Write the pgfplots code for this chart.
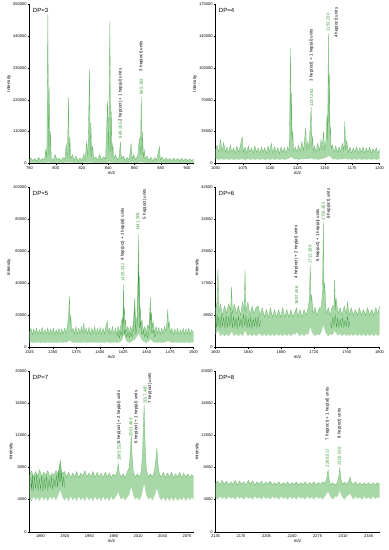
\documentclass[border=0pt]{standalone}
\usepackage{pgfplots}
\pgfplotsset{compat=1.18}
\usepackage{pgfplotstable}
\usepgfplotslibrary{fillbetween}
\usepackage{fontspec}
\setmainfont{Liberation Sans}
\definecolor{fillg}{RGB}{168,216,168}
\definecolor{lineg}{RGB}{105,182,105}
\definecolor{darkg}{RGB}{55,150,55}
\definecolor{numg}{RGB}{60,160,60}
\newcommand\af{\fontsize{4.4}{5}\selectfont}
\pgfplotsset{spec/.style={
 scale only axis, width=164bp,
 anchor=south west,
 axis lines=left, axis line style={-,line width=0.4pt},
 tick align=outside, major tick length=1.8bp, minor tick length=1bp,
 every tick/.style={black,line width=0.3pt},
 ticklabel style={font=\fontsize{4}{4.5}\selectfont, inner sep=1bp},
 /pgf/number format/fixed,
 /pgf/number format/precision=0,
 /pgf/number format/assume math mode=true,
 /pgf/number format/1000 sep={},
 scaled ticks=false,
 minor x tick num=1,
 xlabel={\textit{m/z}}, ylabel={Intensity},
 label style={font=\fontsize{4.5}{5}\selectfont},
 xlabel style={inner sep=1bp},
 ylabel style={inner sep=1bp},
 clip=true,
}}
\newcommand\spectrum[1]{%
 \addplot[name path=U, draw=none] table[x=x,y=u]{#1};
 \addplot[name path=L, draw=none] table[x=x,y=l]{#1};
 \addplot[fill=fillg, draw=none] fill between[of=U and L];
 \addplot[draw=lineg, line width=0.3pt] table[x=x,y=u]{#1};
}
\newcommand\dptitle[1]{\node[anchor=north west, font=\fontsize{6}{7}\selectfont, inner sep=0] at (rel axis cs:0.02,0.975) {#1};}
\newcommand\gnum[3]{\node[rotate=90, anchor=west, inner sep=0, font=\af, text=numg] at (axis cs:#1,#2) {#3};}
\newcommand\btxt[3]{\node[rotate=90, anchor=west, inner sep=0, font=\af] at (axis cs:#1,#2) {#3};}

\pgfplotstableread{
x u l
780 12000 2000
781 18000 1500
782.5 9000 2500
784 16000 1000
785.5 8000 2000
787 20000 1500
788.5 10000 2500
790 17000 1500
791.5 12000 2000
792.4 46000 2000
793.2 14000 2500
794 515000 3000
794.5 30000 3000
795 265000 3000
795.5 25000 2500
796 110000 2500
796.6 18000 2000
798 9000 1500
799.5 30000 1500
801 12000 2000
802.5 18000 1500
804 9000 2500
805.5 20000 1500
807 14000 2000
808 67000 2500
808.8 15000 2500
809.8 226000 3000
810.3 20000 3000
810.8 90000 3000
811.4 15000 2500
812.8 30000 2000
814 10000 1500
815.5 25000 2000
817 9000 1500
818.5 18000 2000
820 10000 1500
821.5 32000 2000
822.5 12000 2000
823.5 75000 2500
824.5 20000 2500
825.8 324000 3000
826.3 25000 3000
826.8 140000 3000
827.3 20000 2500
828 60000 2500
829 14000 2000
830.5 22000 1500
832 10000 2000
833.5 30000 1500
835 12000 2000
836.5 22000 1500
838 15000 2000
839.5 214000 2500
840.2 30000 3000
841.3 492000 3000
841.8 40000 3000
842.3 180000 3000
842.9 20000 2500
843.5 70000 2500
844.2 15000 2000
845.5 30000 2000
847 12000 1500
848.3 20000 2000
849.3 75000 2500
850 15000 2000
851.5 25000 1500
853 10000 2000
854.5 20000 1500
856 12000 2000
857.5 69000 2500
858.3 15000 2000
859.5 30000 2000
861 12000 1500
862.5 28000 2000
863.8 87000 2500
864.5 30000 3000
865.2 231000 3000
865.7 30000 3000
866.2 110000 3000
866.8 20000 2500
867.5 45000 2500
868.2 14000 2000
869.5 25000 1500
871 10000 2000
872.5 20000 1500
874 9000 2000
875.5 20000 1500
877 12000 2000
879 58000 2000
879.7 12000 2000
881 22000 1500
882.5 9000 2000
884 18000 1500
885.5 10000 2000
887 17000 1500
888.5 9000 2000
890 18000 1500
891.5 10000 2000
893 16000 1500
894.5 9000 2000
896 17000 1500
897.5 9000 2000
899 16000 1500
900.5 9000 2000
902 15000 1500
903.5 9000 2000
905 14000 1500
}\dpthree

\pgfplotstableread{
x u l
1050 14000 4200
1051.5 20000 4800
1053 12000 3800
1054.5 26000 4500
1056 13000 4800
1057.5 23000 3800
1059 12000 4300
1060.5 18000 4800
1062 11000 3800
1063.5 20000 4200
1065 12000 4800
1066.5 17000 3800
1068 11000 4300
1069.5 19000 4800
1071 12000 3800
1072.5 18000 4300
1074.4 29000 4800
1075.5 12000 4000
1077 18000 3800
1078.5 11000 4300
1080 19000 4800
1081.5 12000 3800
1083 17000 4300
1084.5 11000 4800
1086 19000 3800
1087.5 12000 4300
1089 17000 4800
1090.5 11000 3800
1092 18000 4300
1093.5 12000 4800
1095 17000 3800
1096.5 11000 4300
1098 19000 4800
1099.5 12000 3800
1101 22000 4300
1102.5 11000 4800
1104 18000 3800
1105.5 12000 4300
1107 17000 4800
1108.5 11000 3800
1110 18000 4300
1111.5 12000 4800
1113 17000 3800
1114.5 11000 4300
1116 18000 4800
1117.5 14000 5500
1118.6 126700 6500
1119.1 30000 6500
1119.6 77000 6500
1120.1 25000 6000
1120.6 35000 6000
1121.5 13000 5000
1123 18000 4300
1124.5 12000 4800
1126 20000 3800
1127.5 13000 4300
1129 24000 4800
1130.5 14000 4500
1132.5 38600 5000
1133.3 15000 5000
1134.5 24000 4800
1135.5 15000 4800
1137.5 62400 5500
1138.1 18000 5500
1138.7 30000 5000
1139.4 13000 4500
1140.5 19000 4300
1142 12000 4800
1143.5 22000 3800
1145 13000 4300
1146.5 26000 4800
1147.5 14000 5000
1148.8 35000 5500
1149.8 15000 5500
1151 24000 6000
1152 53000 7000
1152.6 25000 7500
1153.2 143000 8000
1153.7 45000 8000
1154.2 99000 8000
1154.7 30000 7500
1155.2 40000 7000
1155.8 16000 6000
1157 20000 4800
1158.5 12000 4300
1160 19000 4800
1161.5 12000 3800
1163 18000 4300
1164.5 13000 4800
1166 22000 4300
1167.3 14000 4800
1168.3 46000 5500
1169 15000 5000
1170 25000 4800
1171.5 12000 4300
1173 18000 4800
1174.5 11000 3800
1176 17000 4300
1177.5 12000 4800
1179 18000 3800
1180.5 11000 4300
1182 17000 4800
1183.5 12000 3800
1185 18000 4300
1186.5 11000 4800
1188 17000 3800
1189.5 12000 4300
1191 18000 4800
1192.5 11000 3800
1194 16000 4300
1195.5 12000 4800
1197 17000 3800
1198.5 11000 4300
1200 15000 4500
}\dpfour

\pgfplotstableread{
x u l
1325 9000 3000
1326.5 12000 3500
1328 8000 2800
1329.5 11500 3300
1331 8500 2700
1332.5 12000 3400
1334 8000 2900
1335.5 11000 3300
1337 8500 2700
1338.5 12500 3400
1340 8000 2900
1341.5 11000 3300
1343 8500 2800
1344.5 12000 3400
1346 8000 2900
1347.5 11500 3300
1349 8500 2700
1350.5 12000 3400
1352 8000 2900
1353.5 11000 3300
1355 8500 2800
1356.5 12000 3400
1358 8000 2900
1359.5 11500 3300
1361 8500 2800
1362.5 12000 3400
1364 8500 3000
1365.5 14000 3500
1366.7 20000 4000
1367.7 32000 4500
1368.3 14000 4000
1369 20000 4000
1370 10000 3300
1371.5 12000 2900
1373 8500 3300
1374.5 13000 2800
1376 8000 3400
1377.5 12000 2900
1379 8500 3300
1380.5 13000 2800
1382 9000 3400
1383 15500 3400
1384 9000 2900
1385.5 12000 3300
1387 8500 2800
1388.5 12500 3400
1390 8000 2900
1391.5 12000 3300
1393 8500 2800
1394.5 13000 3400
1396 8000 2900
1397.5 12000 3300
1399 8500 2800
1400.5 12500 3400
1402 8000 2900
1403.5 12000 3300
1405 8500 2800
1406.5 13000 3400
1408 16600 3500
1409 9000 3000
1410.5 12000 3300
1412 8500 2800
1413.5 13000 3400
1415 8000 2900
1416.5 12000 3300
1418 8500 2800
1419.5 13000 3400
1421 9000 3300
1422.5 14000 3800
1423.8 18000 4500
1424.6 15000 6000
1425.3 39400 8000
1425.8 20000 8000
1426.3 25000 7500
1426.9 14000 6500
1427.5 17000 5000
1428.5 10000 3800
1430 13000 3300
1431.5 9000 2900
1433 13000 3400
1434.5 9500 3800
1436 17000 4500
1437.4 31000 5000
1438 12000 5500
1439.3 18000 6500
1440.3 20000 7500
1441.3 70500 8500
1441.8 25000 8500
1442.3 45000 8000
1442.8 18000 7500
1443.3 25000 6500
1444 14000 5500
1445 17000 4500
1446.5 10000 3800
1448 13000 3300
1449.5 9000 2900
1451 14000 3400
1452.5 12000 4000
1454 31000 5000
1454.6 14000 5000
1455.2 22000 4500
1456 12000 4000
1457 16000 3500
1458.5 9000 2900
1460 13000 3300
1461.5 8500 2800
1463 12500 3400
1464.5 8000 2900
1466 12000 3300
1467.5 8500 2800
1469 13000 3400
1470.5 10000 3300
1471.8 16000 3800
1472.6 24000 4200
1473.3 12000 4000
1474 16000 3600
1475.5 9000 3000
1477 12000 3300
1478.5 8000 2800
1480 11500 3400
1481.5 8500 2900
1483 12000 3300
1484.5 8000 2800
1486 11000 3400
1487.5 8500 2900
1489 12000 3300
1490.5 8000 2800
1492 11500 3400
1493.5 8500 2900
1495 12000 3300
1496.5 8000 2800
1498 11000 3400
1500 9000 3000
}\dpfive

\pgfplotstableread{
x u l
1600 10000 3500
1601.8 12000 4000
1603 20900 4500
1604 9500 4000
1606 11500 3000
1608.5 8500 3600
1611 11000 3000
1613.5 9000 3600
1616 11500 3000
1618.5 10000 3800
1619.6 16100 4200
1620.6 9000 3800
1623 11500 3000
1625.5 9000 3600
1628 11000 3000
1630.5 8500 3600
1633 12000 3000
1635 10000 3800
1636 20700 4500
1637 9500 4000
1639.5 12000 3000
1642 8500 3600
1644.5 11000 3000
1647 9000 3600
1649.5 10500 3000
1652 11000 3500
1654.5 8500 3600
1657 10500 3000
1659.5 8000 3600
1662 10000 3000
1664.5 8000 3600
1667 10500 3000
1669.5 8000 3600
1672 10000 3000
1674.5 8000 3600
1677 10000 3000
1679.5 8000 3600
1682 10500 3000
1684.5 8000 3600
1687 10000 3000
1689.5 8000 3600
1692 10000 3000
1694.5 8000 3600
1697 9500 3400
1699 10500 4000
1700.5 8000 3600
1703 10000 3000
1705.5 8000 3600
1708 10000 3000
1710.5 8500 3600
1713 10500 3400
1714.5 13000 4500
1715.5 21800 5500
1716.4 12000 5000
1717.2 14000 4200
1719 9000 3600
1721.5 10500 3000
1724 8500 3600
1726.5 10500 3200
1729 10500 4000
1730.5 15000 5000
1731.5 33100 6000
1732.3 14000 5500
1733.1 17000 4500
1735 9000 3600
1737.5 10500 3000
1740 8500 3600
1742.5 11000 3200
1744.5 11000 4000
1745.3 17900 4500
1746.2 10000 4000
1747 13000 3800
1749.5 9000 3200
1752 10500 3600
1754.5 8500 3000
1757 11000 3600
1759.5 9000 3000
1761 12000 3600
1763 8500 3000
1765.5 10500 3600
1768 8500 3000
1770.5 10000 3600
1773 8500 3000
1775.5 10500 3600
1778 8500 3000
1780.5 10000 3600
1783 8500 3000
1785.5 10500 3600
1788 8500 3000
1790.5 10000 3600
1793 8500 3000
1795.5 10500 3600
1798 9000 3000
1800 11000 3500
}\dpsix

\pgfplotstableread{
x u l
1876.5 7000 4200
1879 7600 3800
1881.5 6800 4400
1884 7500 3900
1886.5 6900 4300
1889 7700 3800
1891.5 6800 4400
1894 7400 3900
1896.5 7000 4300
1899 7600 3800
1901.5 6800 4400
1904 7300 4000
1906.5 7000 4400
1909 7600 3900
1911.5 7200 4500
1913 8000 4800
1914.4 8900 5200
1915.5 7800 4800
1917 7200 4300
1919.5 7500 3900
1922 6800 4300
1924.5 7400 3800
1927 6700 4400
1929.5 7300 3900
1932 6800 4300
1934.5 7500 3800
1937 6700 4400
1939.5 7300 3900
1942 6900 4300
1944.5 7600 3800
1947 6800 4400
1949.5 7300 3900
1952 6800 4300
1954.5 7500 3800
1957 6700 4400
1959.5 7400 3900
1962 6800 4300
1964.5 7300 3800
1967 6700 4400
1969.5 7400 3900
1972 6800 4300
1974.5 7300 3800
1977 6700 4400
1979.5 7200 3900
1982 6900 4300
1984.3 7600 4600
1985.5 8500 5000
1986.8 7300 4500
1989 6800 4000
1991.5 7200 4300
1994 6700 3900
1996.5 7400 4300
1999 8000 4600
2000.5 10000 5200
2001.5 12000 5600
2002.5 9500 5200
2004 7500 4500
2006.5 6800 4000
2009 7200 4300
2011.5 6800 3900
2014 7500 4400
2015.5 10000 5200
2016.5 13500 5600
2017.4 15800 6000
2018.5 11000 5400
2020 7800 4600
2022.5 6800 4000
2025 7200 4300
2027.5 6800 3900
2030 7600 4400
2031.8 9000 5000
2033 10400 5400
2034.2 8500 5000
2036 7200 4300
2038.5 6800 3900
2041 7400 4300
2043.5 6700 3800
2046 7300 4300
2048.5 6800 3800
2051 7400 4300
2053.5 6700 3800
2056 7200 4300
2058.5 6800 3800
2061 7400 4200
2063.5 6700 3900
2066 7300 4300
2068.5 6800 3800
2071 7200 4300
2073.5 6700 3900
2076 7100 4300
2078 6800 4000
}\dpseven

\pgfplotstableread{
x u l
2135 6000 4300
2138 6300 4000
2141 5800 4400
2144 6400 4100
2147 5900 4300
2150 6300 4000
2153 5800 4400
2156 6200 4100
2159 5900 4300
2162 6400 4000
2165 5800 4400
2168 6300 4100
2171 5900 4300
2174 6200 4000
2177 5800 4400
2180 6400 4100
2183 5900 4300
2186 6300 4000
2189 5800 4400
2192 6200 4100
2195 5900 4300
2198 6300 4000
2201 5800 4400
2204 6200 4100
2207 5900 4300
2210 6300 4000
2213 5800 4400
2216 6100 4100
2219 5900 4300
2222 6200 4000
2225 5800 4400
2228 6100 4100
2231 5900 4300
2234 6200 4000
2237 5800 4400
2240 6100 4100
2243 5900 4300
2246 6200 4000
2249 5800 4400
2252 6100 4100
2255 5900 4300
2258 6200 4000
2261 5800 4400
2264 6100 4100
2267 5900 4300
2270 6200 4000
2273 5800 4400
2276 6100 4100
2279 5900 4300
2282 6200 4000
2285 6000 4400
2287.5 6600 4700
2289.5 7700 5000
2291 6500 4700
2293 5800 4300
2296 6100 4000
2299 5800 4400
2302 6100 4300
2304 6800 4800
2305.5 7900 5100
2307 6600 4700
2309 5900 4300
2312 6200 4000
2315 5900 4400
2318 6300 4600
2319.5 6800 4800
2321 6200 4500
2324 5900 4000
2327 6200 4400
2330 5800 4100
2333 6100 4300
2336 5800 4000
2339 6100 4400
2342 5800 4100
2345 6100 4300
2348 5800 4000
2351 6100 4400
2354 5800 4100
2357 6100 4300
2360 5900 4200
}\dpeight

\begin{document}
\begin{tikzpicture}
% DP=3
\begin{axis}[spec, at={(29.5bp,386.7bp)}, height=159bp,
 xmin=780, xmax=905, ymin=0, ymax=550000,
 xtick={780,800,...,900}, ytick={0,110000,...,550000}]
\spectrum{\dpthree}
\dptitle{DP=3}
\gnum{849.3}{86800}{849.265}
\btxt{849.3}{144700}{2 hep(oct) + 1 hep(al) units}
\gnum{865.2}{237400}{865.183}
\btxt{865.2}{318400}{3 hep(oct) units}
\end{axis}
% DP=4
\begin{axis}[spec, at={(215.5bp,386.7bp)}, height=159bp,
 xmin=1050, xmax=1200, ymin=0, ymax=175000,
 xtick={1050,1075,...,1200}, ytick={0,35000,...,175000}]
\spectrum{\dpfour}
\dptitle{DP=4}
\gnum{1137.8}{62000}{1137.263}
\btxt{1137.8}{90000}{3 hep(oct) + 1 hep(al) units}
\gnum{1153.0}{145000}{1153.230}
\btxt{1160.7}{137700}{4 hep(oct) units}
\end{axis}
% DP=5
\begin{axis}[spec, at={(29.5bp,202.5bp)}, height=160.5bp,
 xmin=1325, xmax=1500, ymin=0, ymax=100000,
 xtick={1325,1350,...,1500}, ytick={0,20000,...,100000}]
\spectrum{\dpfive}
\addplot[draw=darkg, line width=0.25pt] coordinates {(1418,7000)(1419.5,9000)(1421,6000)(1422.5,10000)(1424,7000)(1425.2,24000)(1426,8000)(1427,11000)(1428.5,6500)(1430,9500)(1431.5,6000)(1433,9000)(1434.5,6500)(1436,12000)(1437.4,25000)(1438.5,8000)(1440,14000)(1441.3,52000)(1442.5,12000)(1443.5,16000)(1445,8000)(1446.5,10000)(1448,6500)(1449.5,9000)(1451,6000)(1452.5,10000)(1454,22000)(1455.5,9000)(1457,11000)(1458.5,6500)(1460,8500)};
\dptitle{DP=5}
\gnum{1424.6}{41000}{1425.332}
\btxt{1424.6}{54000}{4 hep(oct) + 1 hep(al) units}
\gnum{1440.6}{72500}{1441.309}
\btxt{1448}{79900}{5 hep(oct) units}
\end{axis}
% DP=6
\begin{axis}[spec, at={(215.5bp,202.5bp)}, height=160.5bp,
 xmin=1600, xmax=1800, ymin=0, ymax=42500,
 xtick={1600,1640,...,1800}, ytick={0,8500,...,42500}]
\spectrum{\dpsix}
\addplot[draw=darkg, line width=0.25pt] coordinates {(1600,7500)(1601,5200)(1602,8800)(1603,5500)(1604,8200)(1605.5,5000)(1607,8500)(1608.5,5600)(1610,7900)(1611.5,5200)(1613,8600)(1614.5,5400)(1616,8000)(1617.5,5600)(1619,9500)(1620.5,5200)(1622,8200)(1623.5,5500)(1625,7800)(1626.5,5000)(1628,8300)(1629.5,5600)(1631,7600)(1632.5,5300)(1634,8800)(1635.5,5800)(1637,8400)(1638.5,5200)(1640,7600)(1641.5,5400)(1643,8000)(1644.5,5100)(1646,7500)(1647.5,5600)(1649,7800)(1650.5,5300)(1652,8200)(1653.5,5500)(1655,7200)};
\addplot[draw=darkg, line width=0.25pt] coordinates {(1740,6800)(1741.5,5200)(1743,8000)(1744.5,5600)(1746,8600)(1747.5,5400)(1749,7800)(1750.5,5200)(1752,7400)(1753.5,5500)(1755,7900)(1756.5,5300)(1758,7200)(1759.5,5600)(1761,8200)(1762.5,5400)(1764,7000)};
\dptitle{DP=6}
\gnum{1698.8}{11300}{1697.446}
\btxt{1698.5}{18300}{4 hep(oct) + 2 hep(al) units}
\gnum{1715.5}{22200}{1713.389}
\btxt{1724.9}{22700}{5 hep(oct) + 1 hep(al) units}
\gnum{1731.4}{33600}{1729.362}
\btxt{1738}{34000}{6 hep(oct) units}
\end{axis}
% DP=7
\begin{axis}[spec, at={(29.5bp,18.3bp)}, height=160.5bp,
 xmin=1876.5, xmax=2078, ymin=0, ymax=20000,
 xtick={1890,1920,...,2070}, ytick={0,4000,...,20000}]
\spectrum{\dpseven}
\addplot[draw=darkg, line width=0.25pt] coordinates {(1878,6800)(1879,5200)(1880,7100)(1881,5000)(1882.5,6900)(1884,5400)(1885.5,7200)(1887,5100)(1888.5,6600)(1890,5300)(1891.5,7000)(1893,5000)(1894.5,6700)(1896,5400)(1897.5,6900)(1899,5200)(1900.5,6500)(1902,5500)(1903.5,6800)(1905,5300)(1906.5,6600)(1908,5600)(1909.5,7000)(1911,5500)(1912,7600)(1913,6000)(1914,8500)(1915,6200)(1916,7400)(1917,5600)(1918.5,6800)(1920,5400)};
\dptitle{DP=7}
\gnum{1986.6}{8800}{1985.531}
\btxt{1986.6}{11000}{5 hep(oct) + 2 hep(al) units}
\gnum{2000.9}{11800}{2001.464}
\btxt{2007.6}{11000}{6 hep(oct) + 1 hep(al) units}
\gnum{2018.6}{15900}{2017.440}
\btxt{2024.5}{16000}{7 hep(oct) units}
\end{axis}
% DP=8
\begin{axis}[spec, at={(215.5bp,18.3bp)}, height=160.5bp,
 xmin=2135, xmax=2360, ymin=0, ymax=20000,
 xtick={2135,2170,...,2345}, ytick={0,4000,...,20000}]
\spectrum{\dpeight}
\dptitle{DP=8}
\gnum{2288.5}{8000}{2289.517}
\btxt{2288.5}{11400}{7 hep(oct) + 1 hep(al) units}
\gnum{2305}{8200}{2305.536}
\btxt{2305}{11600}{8 hep(oct) units}
\end{axis}
\path (0,0) rectangle (389bp,550bp);
\end{tikzpicture}
\end{document}
